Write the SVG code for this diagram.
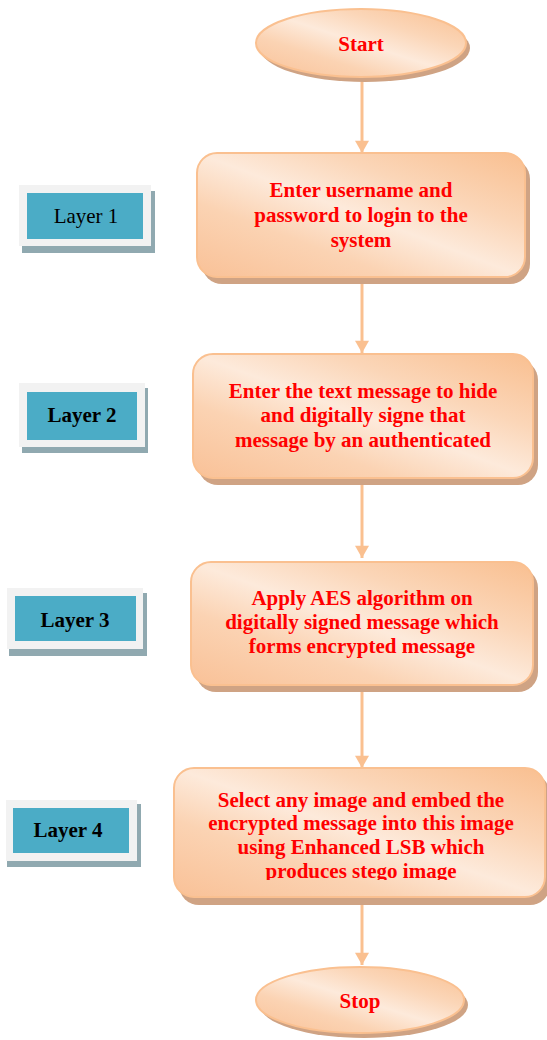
<svg xmlns="http://www.w3.org/2000/svg" width="547" height="1040" viewBox="0 0 547 1040">
<style>
.box{stroke:#FAC090;stroke-width:2;fill:url(#og)}
.sh{fill:#CFA384}
.t{font-family:"Liberation Serif","Times New Roman",serif;font-weight:bold;font-size:21px;fill:#FF0000;text-anchor:middle}
.lt{font-family:"Liberation Serif","Times New Roman",serif;font-size:21px;fill:#000;text-anchor:middle}
.lb{font-weight:bold}
.fr{fill:#F2F2F2}
.bl{fill:#4BACC6}
.ls{fill:#90A9B0}
.con{stroke:#FAC090;stroke-width:3;fill:none;marker-end:url(#ah)}
</style>
<defs>
<linearGradient id="og" x1="1" y1="0" x2="0" y2="1">
<stop offset="0" stop-color="#F9BF90"/>
<stop offset="0.3" stop-color="#FBD6B8"/>
<stop offset="0.5" stop-color="#FDEADB"/>
<stop offset="0.7" stop-color="#FBD3B3"/>
<stop offset="1" stop-color="#F9C197"/>
</linearGradient>
<marker id="ah" markerUnits="userSpaceOnUse" markerWidth="16" markerHeight="14" refX="14" refY="8" orient="auto" viewBox="0 0 14 16">
<path d="M0,0 L14,8 L0,16 Z" fill="#FAC090"/>
</marker>
<clipPath id="c4"><rect x="170" y="760" width="377" height="120"/></clipPath>
</defs>
<g id="connectors">
<line class="con" x1="362" y1="80" x2="362" y2="153"/>
<line class="con" x1="362" y1="278" x2="362" y2="353"/>
<line class="con" x1="362" y1="479" x2="362" y2="558"/>
<line class="con" x1="362" y1="686" x2="362" y2="768"/>
<line class="con" x1="362" y1="898" x2="362" y2="965"/>
</g>
<g id="start">
<ellipse class="sh" cx="365" cy="48" rx="105" ry="34"/>
<ellipse class="box" cx="361" cy="43" rx="105" ry="34"/>
<text class="t" x="361" y="51">Start</text>
</g>
<g id="step1">
<rect class="sh" x="202" y="159" width="328" height="125" rx="20"/>
<rect class="box" x="197" y="153" width="328" height="124" rx="20"/>
<text class="t" x="361" y="197">Enter username and</text>
<text class="t" x="361" y="222">password to login to the</text>
<text class="t" x="361" y="247">system</text>
</g>
<g id="step2">
<rect class="sh" x="198" y="360" width="340" height="125" rx="20"/>
<rect class="box" x="193" y="354" width="340" height="124" rx="20"/>
<text class="t" x="363" y="398">Enter the text message to hide</text>
<text class="t" x="363" y="422">and digitally signe that</text>
<text class="t" x="363" y="447">message by an authenticated</text>
</g>
<g id="step3">
<rect class="sh" x="196" y="568" width="342" height="124" rx="20"/>
<rect class="box" x="191" y="562" width="342" height="123" rx="20"/>
<text class="t" x="362" y="605">Apply AES algorithm on</text>
<text class="t" x="362" y="629">digitally signed message which</text>
<text class="t" x="362" y="653">forms encrypted message</text>
</g>
<g id="step4">
<rect class="sh" x="179" y="774" width="371" height="131" rx="20"/>
<rect class="box" x="174" y="768" width="371" height="129" rx="20"/>
<g clip-path="url(#c4)">
<text class="t" x="361" y="807">Select any image and embed the</text>
<text class="t" x="361" y="830">encrypted message into this image</text>
<text class="t" x="361" y="854">using Enhanced LSB which</text>
<text class="t" x="361" y="878">produces stego image</text>
</g>
</g>
<g id="stop">
<ellipse class="sh" cx="364" cy="1005" rx="104" ry="33"/>
<ellipse class="box" cx="360" cy="1000" rx="104" ry="33"/>
<text class="t" x="360" y="1008">Stop</text>
</g>
<g id="layer1">
<rect class="ls" x="22" y="191" width="133" height="62"/>
<rect class="fr" x="19" y="185" width="132" height="61"/>
<rect class="bl" x="27" y="193" width="116" height="46"/>
<text class="lt" x="86" y="223">Layer 1</text>
</g>
<g id="layer2">
<rect class="ls" x="22" y="388" width="126" height="65"/>
<rect class="fr" x="19" y="383" width="126" height="64"/>
<rect class="bl" x="27" y="392" width="110" height="48"/>
<text class="lt lb" x="82" y="422">Layer 2</text>
</g>
<g id="layer3">
<rect class="ls" x="9" y="593" width="138" height="63"/>
<rect class="fr" x="7" y="588" width="136" height="61"/>
<rect class="bl" x="15" y="596" width="121" height="45"/>
<text class="lt lb" x="75" y="627">Layer 3</text>
</g>
<g id="layer4">
<rect class="ls" x="7" y="804" width="134" height="63"/>
<rect class="fr" x="6" y="800" width="131" height="61"/>
<rect class="bl" x="13" y="808" width="116" height="45"/>
<text class="lt lb" x="68" y="837">Layer 4</text>
</g>
</svg>
